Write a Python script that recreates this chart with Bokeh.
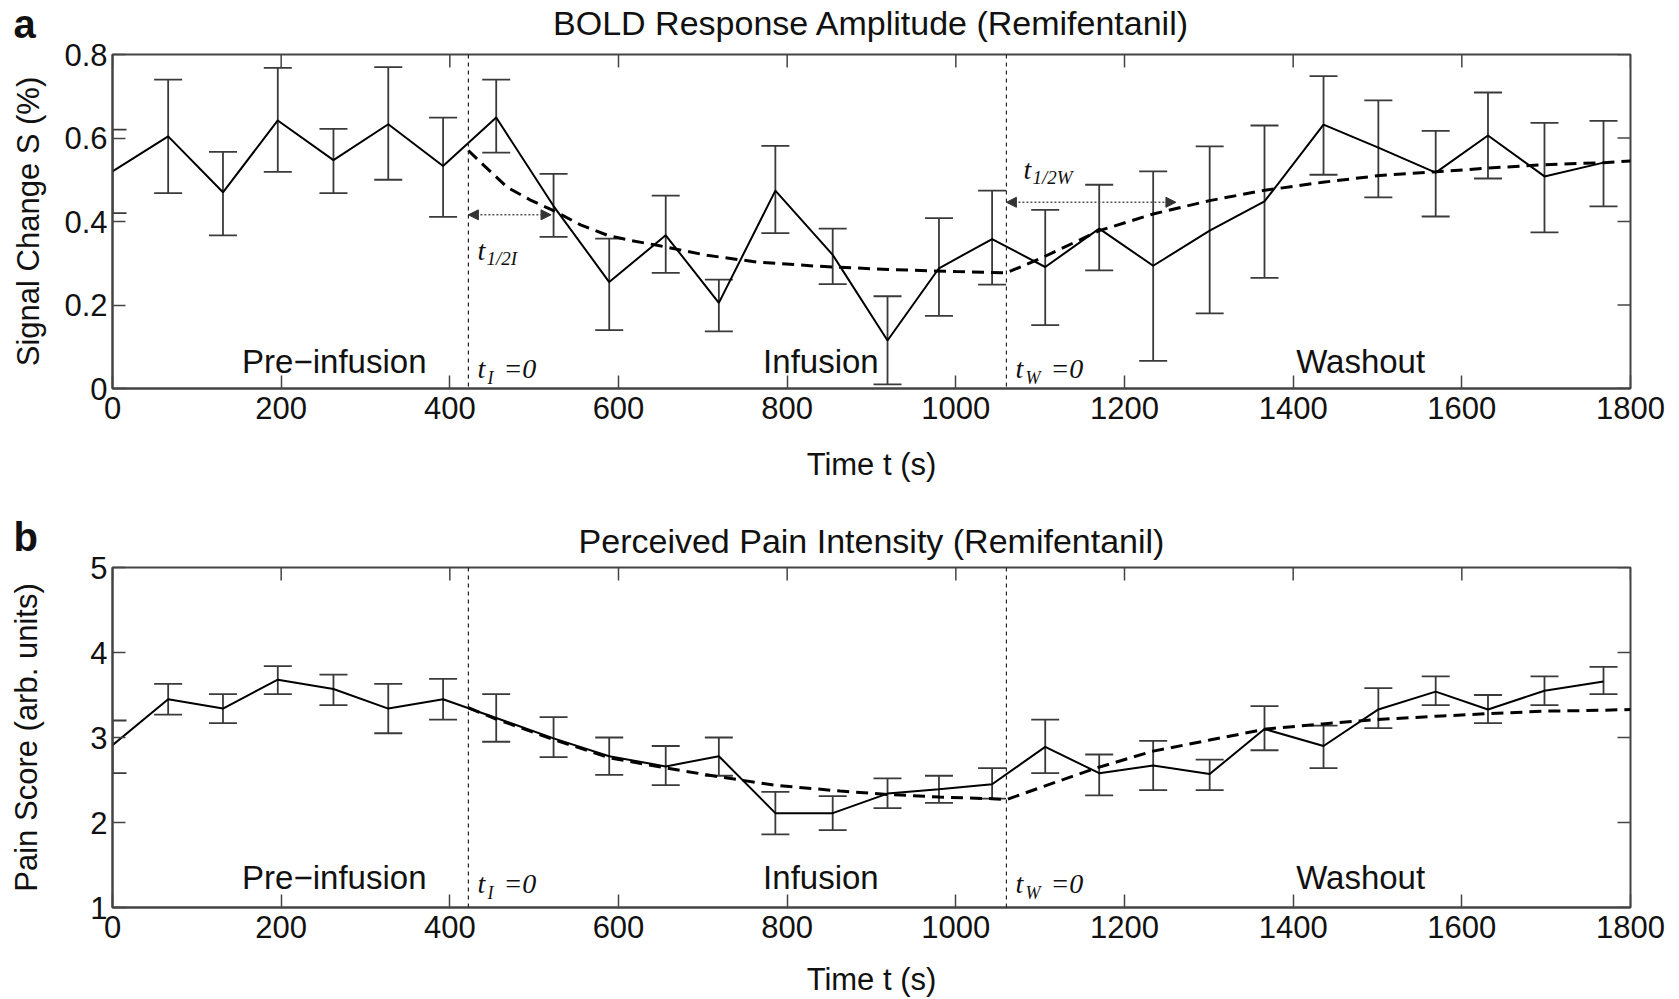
import numpy as np
from bokeh.plotting import figure
from bokeh.layouts import column
from bokeh.models import Range1d, FixedTicker, Span, Arrow, NormalHead, Label
from bokeh.core.properties import value
from bokeh.embed import file_html
from bokeh.resources import INLINE

# ---------------- data ----------------
time_s = [0, 66, 131, 196, 262, 327, 392, 455, 523, 589, 656, 719, 786, 854,
          919, 980, 1043, 1106, 1170, 1234, 1301, 1366, 1436, 1501, 1569, 1631, 1698, 1768]

bold_mean = [0.520, 0.604, 0.470, 0.642, 0.547, 0.633, 0.533, 0.649, 0.437, 0.255, 0.367, 0.205, 0.474, 0.320,
             0.115, 0.288, 0.358, 0.291, 0.383, 0.294, 0.378, 0.448, 0.632, 0.577, 0.517, 0.606, 0.508, 0.541]
bold_lower = [0.420, 0.468, 0.367, 0.519, 0.468, 0.500, 0.411, 0.565, 0.363, 0.140, 0.277, 0.137, 0.372, 0.250,
              0.010, 0.174, 0.249, 0.152, 0.283, 0.066, 0.180, 0.265, 0.512, 0.458, 0.412, 0.503, 0.374, 0.436]
bold_upper = [0.620, 0.740, 0.567, 0.768, 0.622, 0.770, 0.649, 0.740, 0.514, 0.359, 0.462, 0.261, 0.581, 0.383,
              0.221, 0.408, 0.474, 0.428, 0.488, 0.520, 0.580, 0.630, 0.748, 0.690, 0.617, 0.709, 0.636, 0.641]

bold_fit_t = [422, 440, 468, 495, 523, 555, 587, 616, 646, 705, 764, 835, 920, 1000, 1060,
              1103, 1170, 1234, 1301, 1364, 1435, 1502, 1569, 1631, 1698, 1768, 1800]
bold_fit = [0.570, 0.535, 0.482, 0.452, 0.426, 0.392, 0.367, 0.354, 0.343, 0.319, 0.303, 0.293, 0.285, 0.280, 0.277,
            0.314, 0.378, 0.418, 0.450, 0.474, 0.494, 0.510, 0.519, 0.528, 0.536, 0.541, 0.545]

pain_mean = [2.91, 3.45, 3.34, 3.68, 3.57, 3.34, 3.45, 3.23, 2.99, 2.78, 2.66, 2.78, 2.11, 2.11,
             2.34, 2.39, 2.45, 2.89, 2.58, 2.67, 2.57, 3.10, 2.90, 3.33, 3.54, 3.33, 3.55, 3.66]
pain_lower = [2.58, 3.27, 3.17, 3.51, 3.38, 3.05, 3.21, 2.95, 2.77, 2.56, 2.44, 2.55, 1.86, 1.91,
              2.17, 2.23, 2.28, 2.58, 2.32, 2.38, 2.38, 2.85, 2.64, 3.11, 3.38, 3.17, 3.38, 3.51]
pain_upper = [3.20, 3.63, 3.51, 3.84, 3.74, 3.63, 3.69, 3.51, 3.24, 3.00, 2.90, 3.00, 2.36, 2.31,
              2.52, 2.55, 2.64, 3.21, 2.80, 2.96, 2.74, 3.37, 3.14, 3.58, 3.72, 3.50, 3.72, 3.83]

pain_fit_t = [422, 454, 525, 590, 657, 718, 784, 863, 919, 980, 1043, 1060,
              1103, 1166, 1234, 1301, 1368, 1435, 1498, 1569, 1631, 1698, 1768, 1800]
pain_fit = [3.35, 3.22, 2.97, 2.76, 2.64, 2.54, 2.44, 2.37, 2.33, 2.30, 2.28, 2.27,
            2.42, 2.64, 2.84, 2.97, 3.10, 3.16, 3.21, 3.25, 3.28, 3.31, 3.32, 3.33]

x_ticks = [0, 200, 400, 600, 800, 1000, 1200, 1400, 1600, 1800]
bold_y_ticks = [0, 0.2, 0.4, 0.6, 0.8]
bold_y_labels = ["0", "0.2", "0.4", "0.6", "0.8"]
pain_y_ticks = [1, 2, 3, 4, 5]
pain_y_labels = ["1", "2", "3", "4", "5"]

infusion_start = 422
washout_start = 1060
half_time_I = [422, 520]
half_level_I = 0.416
half_time_W = [1060, 1261]
half_level_W = 0.446

phase_names = ["Pre\u2212infusion", "Infusion", "Washout"]
phase_x = [263, 840, 1480]

SANS = "Liberation Sans"
SERIF = "Liberation Serif"
AX = "#444444"
EB = "#3a3a3a"
TXT = "#111111"

WIDTH = 1679
BORDER_LEFT = 112
BORDER_RIGHT = 49


def serif_text(p, x, y, s, size, dx, dy):
    p.text(x=[x], y=[y], text=[s], x_offset=dx, y_offset=dy,
           text_font=value(SERIF), text_font_style="italic", text_font_size=size,
           text_baseline="alphabetic", text_color=TXT)


def make_panel(title, ylabel, letter, mean, lower, upper, fit_t, fit, yr, yticks, ylabels,
               height, border_top, border_bottom, ylabel_standoff, xlabel_standoff,
               phase_y, t_rise, sub_rise, title_baseline, letter_baseline, half=False):
    p = figure(width=WIDTH, height=height, x_range=Range1d(0, 1800), y_range=Range1d(*yr),
               output_backend="svg", toolbar_location=None,
               min_border_left=BORDER_LEFT, min_border_right=BORDER_RIGHT,
               min_border_top=border_top, min_border_bottom=border_bottom)

    p.xgrid.visible = False
    p.ygrid.visible = False
    p.outline_line_color = AX
    p.outline_line_width = 2
    p.outline_line_alpha = 1.0

    p.xaxis.ticker = FixedTicker(ticks=x_ticks)
    p.yaxis.ticker = FixedTicker(ticks=yticks)
    p.yaxis.major_label_overrides = dict(zip(yticks, ylabels))
    for ax in (p.xaxis, p.yaxis):
        ax.axis_line_color = AX
        ax.axis_line_width = 2
        ax.major_tick_in = 13
        ax.major_tick_out = 0
        ax.major_tick_line_color = AX
        ax.major_tick_line_width = 1.5
        ax.minor_tick_line_color = None
        ax.major_label_text_font = SANS
        ax.major_label_text_font_size = "31px"
        ax.major_label_text_color = TXT
        ax.axis_label_text_font = SANS
        ax.axis_label_text_font_size = "31px"
        ax.axis_label_text_font_style = "normal"
        ax.axis_label_text_color = TXT
    p.xaxis.axis_label = "Time t (s)"
    p.xaxis.major_label_standoff = 8
    p.xaxis.axis_label_standoff = xlabel_standoff
    p.yaxis.axis_label = ylabel
    p.yaxis.major_label_standoff = 5
    p.yaxis.axis_label_standoff = ylabel_standoff

    # inward ticks on the top and right edges (half of each dash is clipped by the frame)
    p.scatter(x=x_ticks, y=[yr[1]] * len(x_ticks), marker="dash", angle=np.pi / 2,
              size=26, line_color=AX, line_width=1.5)
    p.scatter(x=[1800] * len(yticks), y=yticks, marker="dash",
              size=26, line_color=AX, line_width=1.5)

    # phase boundaries
    for loc in (infusion_start, washout_start):
        p.add_layout(Span(location=loc, dimension="height", line_dash="4 4",
                          line_width=1.2, line_color="#222222"))

    # error bars
    p.segment(x0=time_s, y0=lower, x1=time_s, y1=upper, line_color=EB, line_width=1.8)
    p.scatter(x=time_s, y=lower, marker="dash", size=28, line_color=EB, line_width=1.8)
    p.scatter(x=time_s, y=upper, marker="dash", size=28, line_color=EB, line_width=1.8)

    # mean and fit
    p.line(time_s, mean, line_color="black", line_width=2)
    p.line(fit_t, fit, line_color="black", line_width=3, line_dash="12 7")

    # phase labels
    p.text(x=phase_x, y=[phase_y] * 3, text=phase_names, y_offset=-10, text_font=value(SANS),
           text_font_size="33px", text_align="center", text_baseline="alphabetic",
           text_color=TXT)

    # t_I = 0 and t_W = 0
    y0 = yr[0]
    for loc, sub, sub_dx, eq_dx in ((infusion_start, "I", 19, 35), (washout_start, "W", 19, 44)):
        serif_text(p, loc, y0, "t", "28px", 9, -(t_rise + 9))
        serif_text(p, loc, y0, sub, "18px", sub_dx, -(sub_rise + 6))
        serif_text(p, loc, y0, "=0", "28px", eq_dx, -(t_rise + 9))

    if half:
        for xs, lvl, sub, t_dx, ty in ((half_time_I, half_level_I, "1/2I", 9, 0.303),
                                       (half_time_W, half_level_W, "1/2W", 17, 0.498)):
            p.add_layout(Arrow(x_start=xs[0], y_start=lvl, x_end=xs[1], y_end=lvl,
                               start=NormalHead(size=10, fill_color="#333333", line_color="#333333"),
                               end=NormalHead(size=10, fill_color="#333333", line_color="#333333"),
                               line_color="#555555", line_width=1.6, line_dash="2 2"))
            serif_text(p, xs[0], ty, "t", "28px", t_dx, -11)
            serif_text(p, xs[0], ty, sub, "19px", t_dx + 9, -3)

    # title: a label in the (otherwise empty) top side panel, positioned from the frame top
    frame_bottom = height - border_bottom
    frame_right = WIDTH - BORDER_RIGHT
    frame_center = (BORDER_LEFT + frame_right) / 2
    p.add_layout(Label(x=frame_center - BORDER_LEFT, y=border_top - title_baseline + 11,
                       x_units="screen", y_units="screen",
                       text=title, text_font=SANS, text_font_size="34px", text_align="center",
                       text_baseline="alphabetic", text_color=TXT), "above")
    # panel letter: a label in the right side panel (not clipped by the frame)
    p.add_layout(Label(x=13 - frame_right, y=frame_bottom - letter_baseline + 12,
                       x_units="screen", y_units="screen",
                       text=letter, text_font=SANS, text_font_style="bold", text_font_size="40px",
                       text_baseline="alphabetic", text_color=TXT), "right")
    return p


p1 = make_panel("BOLD Response Amplitude (Remifentanil)", "Signal Change S (%)", "a",
                bold_mean, bold_lower, bold_upper, bold_fit_t, bold_fit, (0, 0.8),
                bold_y_ticks, bold_y_labels, 490, 54, 102, 15, 25, 0.04, 11, 5, 33, 35, half=True)
p2 = make_panel("Perceived Pain Intensity (Remifentanil)", "Pain Score (arb. units)", "b",
                pain_mean, pain_lower, pain_upper, pain_fit_t, pain_fit, (1, 5),
                pain_y_ticks, pain_y_labels, 509, 77, 92, 43, 21, 1.23, 15, 9, 61, 58)

layout = column(p1, p2, spacing=0)
open("out.html", "w").write(file_html(layout, INLINE))
